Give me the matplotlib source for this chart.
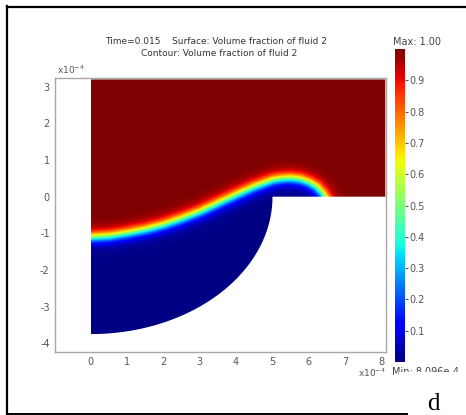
import numpy as np
import matplotlib
matplotlib.use("Agg")
import matplotlib.pyplot as plt
from matplotlib.path import Path
from matplotlib.patches import PathPatch, Rectangle
from matplotlib.lines import Line2D
from matplotlib import cm, colors

plt.rcParams["axes.unicode_minus"] = False

# ---- values (lengths in units of 1e-4 m) ----
# domain: rectangle on top, quarter ellipse below
box_w = 8.1
box_h = 3.2
ell_a = 5.0      # semi-axis along x
ell_b = 3.75     # semi-axis along y

# position of the 0.5 level of the interface
iface_x = [0.0, 0.5, 1.0, 1.5, 2.0, 2.5, 3.0, 3.5, 4.0, 4.5, 5.0, 5.25, 5.5,
           5.75, 6.0, 6.2, 6.35, 6.45, 6.5]
iface_y = [-1.11, -1.08, -1.0, -0.9, -0.77, -0.6, -0.41, -0.18, 0.05, 0.27,
           0.45, 0.49, 0.50, 0.47, 0.38, 0.26, 0.10, -0.05, -0.2]
iface_width = 0.19

cbar_ticks = [0.1, 0.2, 0.3, 0.4, 0.5, 0.6, 0.7, 0.8, 0.9]
vmin, vmax = 0.006, 1.0
xticks = [0, 1, 2, 3, 4, 5, 6, 7, 8]
yticks = [-4, -3, -2, -1, 0, 1, 2, 3]

title1 = "Time=0.015    Surface: Volume fraction of fluid 2"
title2 = "Contour: Volume fraction of fluid 2"

W, H = 466, 415
fig = plt.figure(figsize=(W / 100, H / 100), dpi=100)
fig.patch.set_facecolor("white")


def fx(px):
    return px / W


def fy(py):
    return 1 - py / H


# main axes (pixel box 55..386 x 78..352)
ax = fig.add_axes([fx(55.3), fy(351.7), (386 - 55.3) / W, (351.7 - 78.3) / H])
ax.set_xlim(-0.97, 8.12)
ax.set_ylim(-4.23, 3.23)

# volume fraction field from signed distance to the interface
xs = np.linspace(0, box_w, 811)
ys = np.linspace(-ell_b, box_h, 700)
XX, YY = np.meshgrid(xs, ys)
pts = np.column_stack([XX.ravel(), YY.ravel()])
px = np.array(iface_x)
py = np.array(iface_y)
dist = np.full(len(pts), np.inf)
for i in range(len(px) - 1):
    ax0, ay0, bx, by = px[i], py[i], px[i + 1], py[i + 1]
    dx, dy = bx - ax0, by - ay0
    t = ((pts[:, 0] - ax0) * dx + (pts[:, 1] - ay0) * dy) / (dx * dx + dy * dy)
    t = np.clip(t, 0, 1)
    d = np.hypot(pts[:, 0] - (ax0 + t * dx), pts[:, 1] - (ay0 + t * dy))
    dist = np.minimum(dist, d)
below = Path(list(zip(iface_x, iface_y)) + [(6.5, -5), (-0.5, -5), (-0.5, iface_y[0])])
inside = below.contains_points(pts)
sdist = np.where(inside, -dist, dist).reshape(XX.shape)
field = 0.5 * (1 + np.tanh(sdist / iface_width))
field = vmin + (vmax - vmin) * field

im = ax.imshow(field, extent=[0, box_w, -ell_b, box_h], origin="lower",
               cmap="jet", vmin=0.0, vmax=vmax, interpolation="bilinear",
               aspect="auto")

# clip to the domain outline
th = np.linspace(0, np.pi / 2, 120)
outline = [(0, box_h), (box_w, box_h), (box_w, 0), (ell_a, 0)]
outline += [(ell_a * np.cos(t), -ell_b * np.sin(t)) for t in th]
outline += [(0, box_h)]
clip = PathPatch(Path(outline), transform=ax.transData, facecolor="none",
                 edgecolor="none")
ax.add_patch(clip)
im.set_clip_path(clip)

ax.set_xticks(xticks)
ax.set_yticks(yticks)
ax.tick_params(length=0, labelsize=7, colors="#555555", pad=4)
for s in ax.spines.values():
    s.set_color("#a8a8a8")
    s.set_linewidth(1.0)

fig.text(fx(57), fy(74), r"x10$^{-4}$", fontsize=6.5, color="#555555",
         ha="left", va="baseline")
fig.text(fx(358), fy(377), r"x10$^{-4}$", fontsize=6.5, color="#555555",
         ha="left", va="baseline")

fig.text(fx(216), fy(42), title1, fontsize=6.5, color="#333333",
         ha="center", va="center")
fig.text(fx(219), fy(53), title2, fontsize=6.5, color="#333333",
         ha="center", va="center")

# colorbar
cax = fig.add_axes([fx(395), fy(362), 10 / W, (362 - 49) / H])
sm = cm.ScalarMappable(norm=colors.Normalize(vmin=0.0, vmax=1.0), cmap="jet")
cb = fig.colorbar(sm, cax=cax, ticks=cbar_ticks)
cb.outline.set_visible(False)
cax.tick_params(length=2, labelsize=7, colors="#555555", pad=1)

fig.text(fx(393), fy(42), "Max: 1.00", fontsize=7, color="#444444",
         ha="left", va="center")
fig.text(fx(392), fy(372), "Min: 8.096e-4", fontsize=7, color="#444444",
         ha="left", va="center", zorder=3)
# the panel label box hides the lower part of the Min text
fig.add_artist(Rectangle((fx(399), 0), 1 - fx(399), fy(371.5),
                         transform=fig.transFigure, facecolor="white",
                         edgecolor="none", zorder=5))

# frame around the panel
fig.add_artist(Line2D([fx(7), fx(7)], [fy(6.5), 0], color="black", lw=1.6,
                      zorder=6))
fig.add_artist(Line2D([fx(7), 1], [fy(7), fy(7)], color="black", lw=1.6,
                      zorder=6))
fig.add_artist(Line2D([fx(7), fx(407)], [fy(414), fy(414)], color="black",
                      lw=1.4, zorder=6))
fig.text(fx(433), fy(410), "d", fontsize=18, family="Liberation Serif",
         ha="center", va="baseline", zorder=7)

fig.savefig("out.png", dpi=100)
